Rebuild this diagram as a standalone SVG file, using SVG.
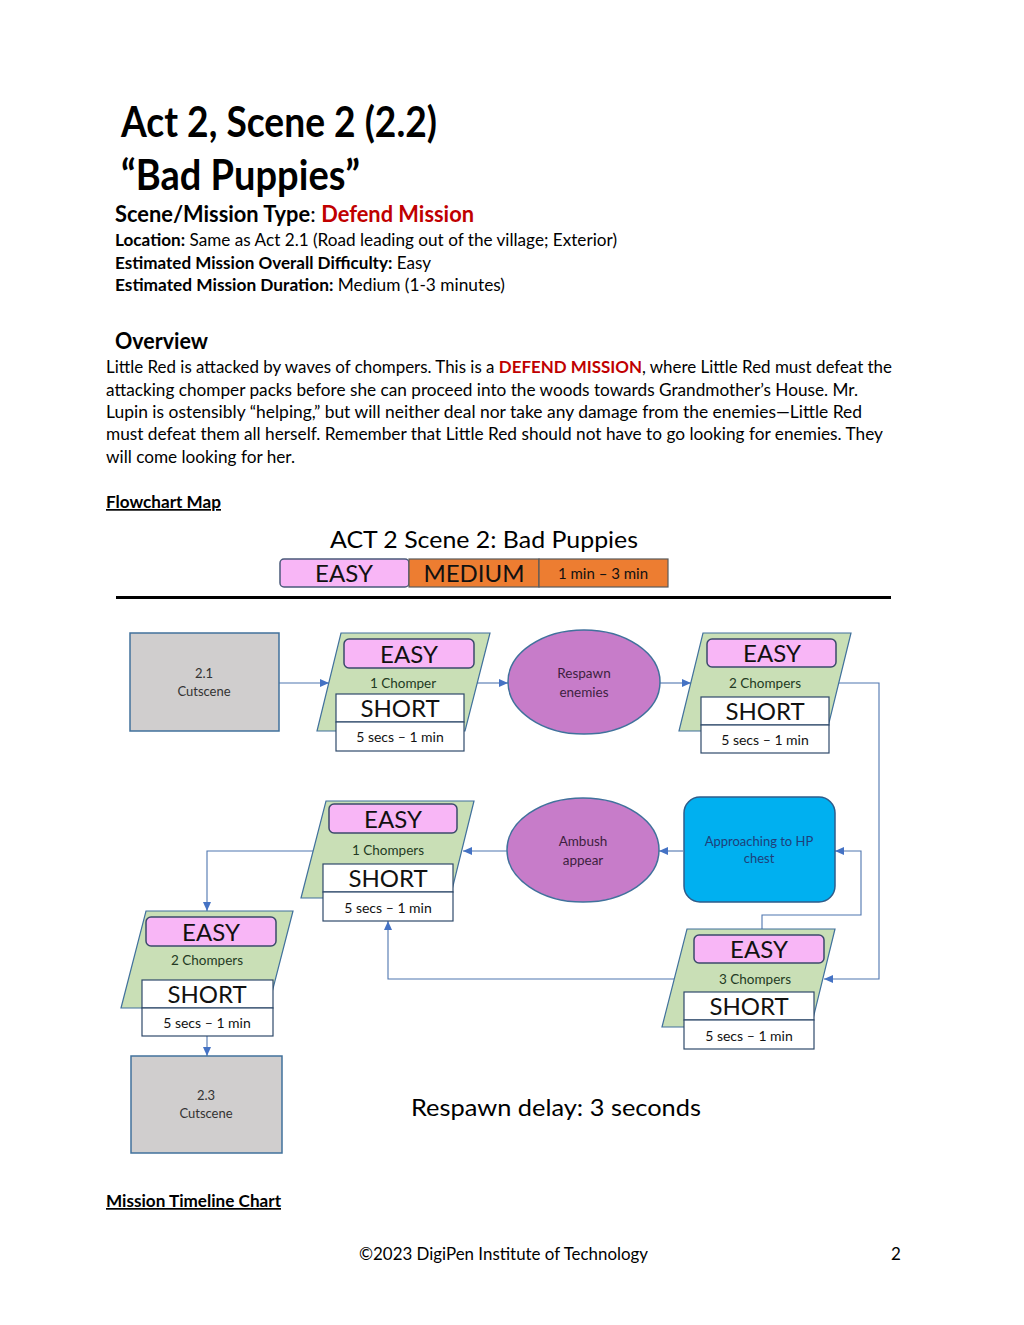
<svg xmlns="http://www.w3.org/2000/svg" width="1024" height="1325" viewBox="0 0 1024 1325">
<style>
text{font-family:Lato,"Open Sans","Liberation Sans",sans-serif;fill:#000}
.title{font-size:42px;font-weight:bold}
.h2{font-size:22px;font-weight:bold}
.body{font-size:17px}
.b{font-weight:bold}
.red{fill:#C00000;font-weight:bold}
.u{text-decoration:underline}
.para{fill:#C9DFB6;stroke:#41719C;stroke-width:1.2}
.easy{fill:#F8B6F6;stroke:#3B4A6B;stroke-width:1.5}
.wbox{fill:#fff;stroke:#2F4A6B;stroke-width:1.2}
.big{font-size:24px;text-anchor:middle;fill:#111}
.small{font-size:14px;text-anchor:middle;fill:#111}
.cnt{font-size:13.5px;text-anchor:middle;fill:#233a23}
.cut{fill:#D0CECE;stroke:#41719C;stroke-width:1.5}
.cuttxt{font-size:13px;text-anchor:middle;fill:#333}
.ell{fill:#C77CC9;stroke:#41719C;stroke-width:1.5}
.elltxt{font-size:13.5px;text-anchor:middle;fill:#3D1F40}
.conn{fill:none;stroke:#4F76B0;stroke-width:1.1}
</style>
<defs>
<marker id="arr" markerUnits="userSpaceOnUse" markerWidth="9" markerHeight="8" refX="9" refY="4" orient="auto">
<path d="M0,0 L9,4 L0,8 z" fill="#4472C4"/>
</marker>
</defs>
<rect width="1024" height="1325" fill="#fff"/>

<text class="title" x="121" y="137" textLength="316" lengthAdjust="spacingAndGlyphs">Act 2, Scene 2 (2.2)</text>
<text class="title" x="121" y="190" textLength="239" lengthAdjust="spacingAndGlyphs">“Bad Puppies”</text>
<text class="h2" x="115" y="222" textLength="359" lengthAdjust="spacingAndGlyphs"><tspan class="b">Scene/Mission Type</tspan><tspan style="font-weight:normal">: </tspan><tspan class="red">Defend Mission</tspan></text>
<text class="body" x="115" y="246" textLength="502" lengthAdjust="spacingAndGlyphs"><tspan class="b">Location:</tspan> Same as Act 2.1 (Road leading out of the village; Exterior)</text>
<text class="body" x="115" y="269" textLength="316" lengthAdjust="spacingAndGlyphs"><tspan class="b">Estimated Mission Overall Difficulty:</tspan> Easy</text>
<text class="body" x="115" y="291" textLength="390" lengthAdjust="spacingAndGlyphs"><tspan class="b">Estimated Mission Duration:</tspan> Medium (1-3 minutes)</text>

<text class="h2" x="115" y="349" textLength="93" lengthAdjust="spacingAndGlyphs">Overview</text>
<text class="body" x="106" y="373" textLength="786" lengthAdjust="spacingAndGlyphs">Little Red is attacked by waves of chompers. This is a <tspan class="red">DEFEND MISSION</tspan>, where Little Red must defeat the</text>
<text class="body" x="106" y="396" textLength="752" lengthAdjust="spacingAndGlyphs">attacking chomper packs before she can proceed into the woods towards Grandmother’s House. Mr.</text>
<text class="body" x="106" y="418" textLength="756" lengthAdjust="spacingAndGlyphs">Lupin is ostensibly “helping,” but will neither deal nor take any damage from the enemies—Little Red</text>
<text class="body" x="106" y="440" textLength="777" lengthAdjust="spacingAndGlyphs">must defeat them all herself. Remember that Little Red should not have to go looking for enemies. They</text>
<text class="body" x="106" y="463" textLength="189" lengthAdjust="spacingAndGlyphs">will come looking for her.</text>

<text class="body b u" x="106" y="508" textLength="115" lengthAdjust="spacingAndGlyphs">Flowchart Map</text>

<text x="484" y="548" style="font-size:24px;text-anchor:middle" textLength="308" lengthAdjust="spacingAndGlyphs">ACT 2 Scene 2: Bad Puppies</text>
<g id="legend">
<rect x="280" y="559" width="129" height="28" rx="4" class="easy" style="stroke:#4A5A7A"/>
<text class="big" x="344" y="582">EASY</text>
<rect x="409" y="559" width="130" height="28" fill="#ED7D31" stroke="#5A5A5A" stroke-width="1.2"/>
<text class="big" x="474" y="582">MEDIUM</text>
<rect x="539" y="559" width="129" height="28" fill="#ED7D31" stroke="#5A5A5A" stroke-width="1.2"/>
<text x="603" y="579" style="font-size:15px;text-anchor:middle;fill:#111">1 min – 3 min</text>
</g>
<line x1="116" y1="597.5" x2="891" y2="597.5" stroke="#000" stroke-width="3.2"/>

<g id="connectors">
<path class="conn" d="M279,683 H329" marker-end="url(#arr)"/>
<path class="conn" d="M477,683 H508" marker-end="url(#arr)"/>
<path class="conn" d="M660,683 H691" marker-end="url(#arr)"/>
<path class="conn" d="M838,683 H879 V979 H824" marker-end="url(#arr)"/>
<path class="conn" d="M762,929 V915 H861 V851 H835" marker-end="url(#arr)"/>
<path class="conn" d="M683,851 H659" marker-end="url(#arr)"/>
<path class="conn" d="M507,851 H463" marker-end="url(#arr)"/>
<path class="conn" d="M313,851 H207 V911" marker-end="url(#arr)"/>
<path class="conn" d="M674,979 H388 V921" marker-end="url(#arr)"/>
<path class="conn" d="M207,1036 V1056" marker-end="url(#arr)"/>
</g>

<g id="cut21">
<rect x="130" y="633" width="149" height="98" class="cut"/>
<text class="cuttxt" x="204" y="678">2.1</text>
<text class="cuttxt" x="204" y="696">Cutscene</text>
</g>

<g id="wave1">
<polygon class="para" points="341,633 490,633 465,731 317,731"/>
<rect x="344" y="639" width="130" height="29" rx="5" class="easy"/>
<text class="big" x="409" y="663">EASY</text>
<text class="cnt" x="403" y="688">1 Chomper</text>
<rect x="336" y="694" width="128" height="28" class="wbox"/>
<text class="big" x="400" y="717">SHORT</text>
<rect x="336" y="722" width="128" height="29" class="wbox"/>
<text class="small" x="400" y="742">5 secs – 1 min</text>
</g>

<g id="respawn">
<ellipse cx="584" cy="682" rx="76" ry="52" class="ell"/>
<text class="elltxt" x="584" y="678">Respawn</text>
<text class="elltxt" x="584" y="697">enemies</text>
</g>

<g id="wave2">
<polygon class="para" points="703,633 851,633 827,731 679,731"/>
<rect x="707" y="639" width="129" height="28" rx="5" class="easy"/>
<text class="big" x="772" y="662">EASY</text>
<text class="cnt" x="765" y="688">2 Chompers</text>
<rect x="701" y="697" width="128" height="28" class="wbox"/>
<text class="big" x="765" y="720">SHORT</text>
<rect x="701" y="725" width="128" height="28" class="wbox"/>
<text class="small" x="765" y="745">5 secs – 1 min</text>
</g>

<g id="chest">
<rect x="684" y="797" width="151" height="105" rx="16" fill="#00B0F0" stroke="#2E5C8A" stroke-width="1.5"/>
<text x="759" y="846" style="font-size:13px;text-anchor:middle;fill:#1F3F7A">Approaching to HP</text>
<text x="759" y="863" style="font-size:13px;text-anchor:middle;fill:#1F3F7A">chest</text>
</g>

<g id="ambush">
<ellipse cx="583" cy="850" rx="76" ry="52" class="ell"/>
<text class="elltxt" x="583" y="846">Ambush</text>
<text class="elltxt" x="583" y="865">appear</text>
</g>

<g id="wave4">
<polygon class="para" points="326,801 474,801 450,898 301,898"/>
<rect x="329" y="804" width="128" height="29" rx="5" class="easy"/>
<text class="big" x="393" y="828">EASY</text>
<text class="cnt" x="388" y="855">1 Chompers</text>
<rect x="323" y="864" width="130" height="28" class="wbox"/>
<text class="big" x="388" y="887">SHORT</text>
<rect x="323" y="892" width="130" height="29" class="wbox"/>
<text class="small" x="388" y="913">5 secs – 1 min</text>
</g>

<g id="wave3">
<polygon class="para" points="687,929 835,929 811,1027 662,1027"/>
<rect x="694" y="935" width="130" height="28" rx="5" class="easy"/>
<text class="big" x="759" y="958">EASY</text>
<text class="cnt" x="755" y="984">3 Chompers</text>
<rect x="684" y="992" width="130" height="28" class="wbox"/>
<text class="big" x="749" y="1015">SHORT</text>
<rect x="684" y="1020" width="130" height="29" class="wbox"/>
<text class="small" x="749" y="1041">5 secs – 1 min</text>
</g>

<g id="wave5">
<polygon class="para" points="146,911 293,911 268,1008 121,1008"/>
<rect x="146" y="917" width="130" height="29" rx="5" class="easy"/>
<text class="big" x="211" y="941">EASY</text>
<text class="cnt" x="207" y="965">2 Chompers</text>
<rect x="142" y="980" width="131" height="28" class="wbox"/>
<text class="big" x="207" y="1003">SHORT</text>
<rect x="142" y="1008" width="131" height="28" class="wbox"/>
<text class="small" x="207" y="1028">5 secs – 1 min</text>
</g>

<g id="cut23">
<rect x="131" y="1056" width="151" height="97" class="cut"/>
<text class="cuttxt" x="206" y="1100">2.3</text>
<text class="cuttxt" x="206" y="1118">Cutscene</text>
</g>

<text x="411" y="1116" style="font-size:24px" textLength="290" lengthAdjust="spacingAndGlyphs">Respawn delay: 3 seconds</text>

<text class="body b u" x="106" y="1207" textLength="175" lengthAdjust="spacingAndGlyphs">Mission Timeline Chart</text>

<text class="body" x="359" y="1260" textLength="289" lengthAdjust="spacingAndGlyphs">©2023 DigiPen Institute of Technology</text>
<text class="body" x="891" y="1260">2</text>
</svg>
